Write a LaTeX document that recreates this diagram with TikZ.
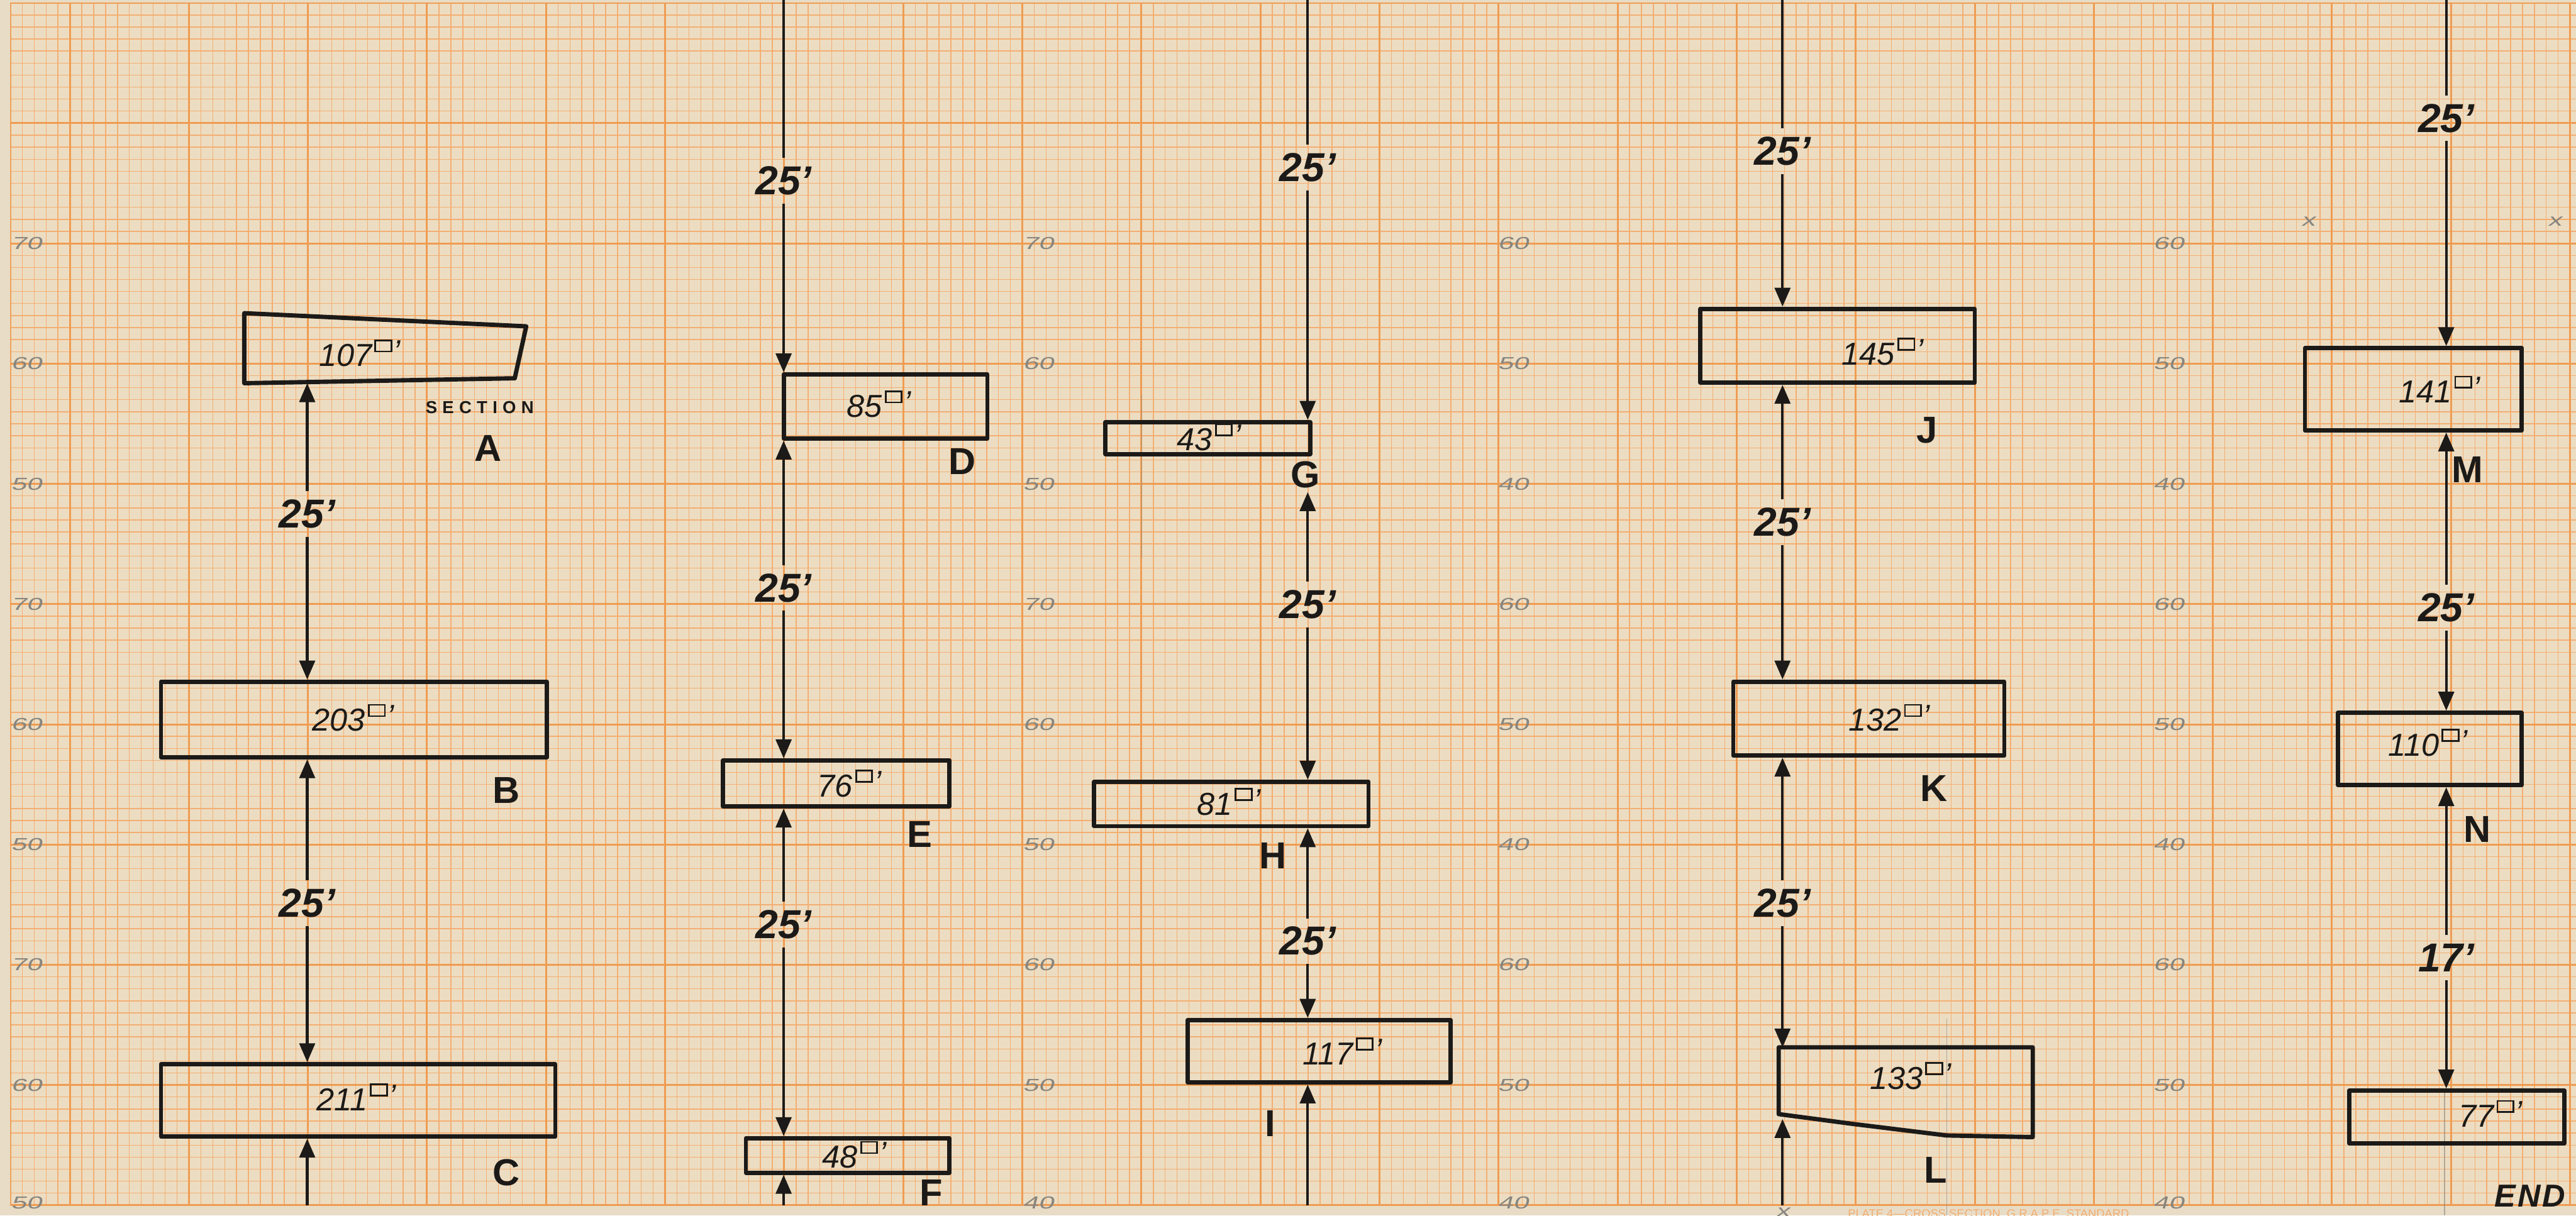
\documentclass[tikz,border=0pt]{standalone}
\usepackage{fontspec}
\setmainfont{Liberation Sans}
\newfontfamily\spacedsf[LetterSpace=30]{Liberation Sans}
\newfontfamily\endsf[LetterSpace=6]{Liberation Sans}
\newfontfamily\pencilsf[FakeStretch=1.6, FakeSlant=0.25]{Liberation Sans}
\usetikzlibrary{arrows.meta, calc}
\definecolor{cedge}{HTML}{E8DCC6}
\definecolor{cpaper}{HTML}{ECDDC2}
\definecolor{cgrid}{HTML}{F3AE72}
\definecolor{cmajor}{HTML}{EF9C52}
\definecolor{cink}{HTML}{1C1A18}
\definecolor{cpencil}{HTML}{87857F}
\newcommand{\pxl}{0.2mm}
\newcommand{\sqft}{\kern0.08em\raisebox{0.5em}{\fboxsep=0pt\fboxrule=0.6pt\fbox{\rule{0.45em}{0pt}\rule{0pt}{0.3em}}}\kern0.04em\raisebox{0.12em}{'}}
\tikzset{
  every picture/.style={line width=0.9pt},
  plot/.style={draw=cink, line width=1.5pt, inner sep=0pt, line join=round},
  area/.style={text=cink, font=\itshape\fontsize{11}{11}\selectfont, inner sep=1pt},
  dimlab/.style={text=cink, font=\bfseries\itshape\fontsize{14}{14}\selectfont, inner sep=2.5pt},
  sec/.style={text=cink, font=\bfseries\fontsize{13}{13}\selectfont, inner sep=1pt},
  tip/.style={draw=cink, line width=0.9pt, -{Triangle[length=2.3mm, width=1.9mm]}},
  leg/.style={draw=cink, line width=0.9pt},
  pencil/.style={text=cpencil, font=\pencilsf\fontsize{6}{6}\selectfont, inner sep=0pt},
  guide/.style={draw=cpencil, line width=0.3pt, opacity=0.6},
  minor/.style={draw=cgrid, line width=0.3pt},
  major/.style={draw=cmajor, line width=0.65pt},
}

\begin{document}
\begin{tikzpicture}[x=0.2mm, y=-0.2mm]
  \useasboundingbox (0,0) rectangle (1568,740);
  \fill[cedge] (0,0) rectangle (1568,740);
  \fill[cpaper] (6.3,1.8) rectangle (1568,734);
  \begin{scope}
    \clip (6.3,1.8) rectangle (1568,734);
    \foreach \k in {0,...,215} \draw[minor] ({6.3+7.247*\k},1.8) -- ++(0,732.2);
    \foreach \k in {0,...,100} \draw[minor] (6.3,{1.8+7.32*\k}) -- ++(1562,0);
    \foreach \k in {0,...,21} \draw[major] ({42.5+72.47*\k},1.8) -- ++(0,732.2);
    \foreach \k in {0,...,10} \draw[major] (6.3,{1.8+73.2*\k}) -- ++(1562,0);
    \draw[major] (6.3,1.8) -- (6.3,734);
  \end{scope}

  \foreach \x/\a/\b/\c in {16/70/60/50, 632/70/60/50, 921/60/50/40, 1320/60/50/40} {
    \node[pencil] at (\x,148.2) {\a};
    \node[pencil] at (\x,221.4) {\b};
    \node[pencil] at (\x,294.6) {\c};
  }
  \foreach \x/\a/\b/\c in {16/70/60/50, 632/70/60/50, 921/60/50/40, 1320/60/50/40} {
    \node[pencil] at (\x,367.8) {\a};
    \node[pencil] at (\x,441) {\b};
    \node[pencil] at (\x,514.2) {\c};
  }
  \foreach \x/\a/\b/\c in {16/70/60/50, 632/60/50/40, 921/60/50/40, 1320/60/50/40} {
    \node[pencil] at (\x,587.4) {\a};
    \node[pencil] at (\x,660.6) {\b};
    \node[pencil] at (\x,732.5) {\c};
  }
  \node[pencil] at (1405,135) {x};
  \node[pencil] at (1555,135) {x};
  \node[pencil] at (1085,738) {x};
  \draw[guide] (1185,620) -- (1185,740);
  \draw[guide] (1488,664) -- (1488,740);
  \draw[guide] (695,240) -- (695,340);
  \node[text=cgrid, font=\fontsize{4}{4}\selectfont, anchor=north west, inner sep=0pt] (plate) at (1124,735.5)
    {PLATE 4---CROSS SECTION\ \ G R A P E\ \ STANDARD};

  \coordinate (top) at (0,0);
  \foreach \n/\x/\y/\w/\h in {
      B/215.5/438/235/46, C/218/670/240/44,
      D/539/247.5/124/39, E/509/477/138/28, F/516/703.5/124/21,
      G/735.2/266.7/124.5/19.5, H/749.5/489.5/167/27, I/803/640/160/38,
      J/1118.5/210.5/167/45, K/1137.5/437.5/165/45,
      M/1469/237/132/50, N/1479/456/112/44, end/1495.5/680/131/32} {
    \node[plot, minimum width=\w*\pxl, minimum height=\h*\pxl] (\n) at (\x,\y) {};
  }
  \node[plot, draw=none, minimum width=168*\pxl, minimum height=40*\pxl] (A) at (234,212) {};
  \node[plot, draw=none, minimum width=152*\pxl, minimum height=41*\pxl] (L) at (1160,659.5) {};
  \draw[plot] (A.north west) -- ($(A.north east)+(1,8)$) -- ($(A.south east)+(-6,-3)$) -- (A.south west) -- cycle;
  \draw[plot] (L.north west) -- (L.north east) -- ($(L.south east)+(0,11)$) -- ($(L.south)+(25,10)$)
    -- ($(L.south)+(-32,3)$) -- ($(L.south west)+(0,-3)$) -- cycle;

  \foreach \n/\x/\y/\t in {
      A/219/215/107, B/215/437/203, C/217/668/211, D/535/246/85, E/517/477/76,
      F/520/703/48, G/736/266/43, H/748/488/81, I/817/640/117, J/1146/214/145,
      K/1150/437/132, L/1163/655/133, M/1485/237/141, N/1478/452/110, end/1516/678/77} {
    \node[area] (a\n) at (\x,\y) {\t\sqft};
  }

  \node[text=cink, font=\spacedsf\bfseries\fontsize{6}{6}\selectfont] (sect) at (292,248) {SECTION};
  \foreach \n/\x/\y in {
      A/297/273, B/308/481, C/308/714, D/585.6/281, E/560/508, F/567/726,
      G/794.6/289, H/775/521, I/773/684, J/1173/262, K/1177/480, L/1178/712.5,
      M/1502/286, N/1508/505} {
    \node[sec] (l\n) at (\x,\y) {\n};
  }
  \node[text=cink, font=\endsf\bfseries\itshape\fontsize{11}{11}\selectfont] (lend) at (1540,728) {END};

  \foreach \d/\x/\y/\t in {
      1/187/313/25, 2/187/550/25,
      3/477/110/25, 4/477/358/25, 5/477/563/25,
      6/796/102/25, 7/796/368/25, 8/796/573/25,
      9/1085/92/25, 10/1085/318/25, 11/1085/550/25,
      12/1489/72/25, 13/1489/370/25, 14/1489/583/17} {
    \node[dimlab] (d\d) at (\x,\y) {\t'};
  }

  \foreach \d/\n in {3/D, 6/G, 9/J, 12/M} {
    \draw[leg] (d\d.north) -- (d\d.north |- top);
    \draw[tip] (d\d.south) -- (\n.north -| d\d);
  }
  \foreach \d/\u/\n in {1/A/B, 2/B/C, 4/D/E, 5/E/F, 8/H/I, 10/J/K, 11/K/L, 13/M/N, 14/N/end} {
    \draw[tip] (d\d.north) -- (\u.south -| d\d);
    \draw[tip] (d\d.south) -- (\n.north -| d\d);
  }
  \draw[tip] (d7.north) -- (lG.south -| d7);
  \draw[tip] (d7.south) -- (H.north -| d7);

  \foreach \x/\n in {187/C, 477/F, 796/I, 1085/L} {
    \coordinate (b\n) at (\x,734);
    \draw[tip] (b\n) -- (\n.south -| b\n);
  }
\end{tikzpicture}
\end{document}
